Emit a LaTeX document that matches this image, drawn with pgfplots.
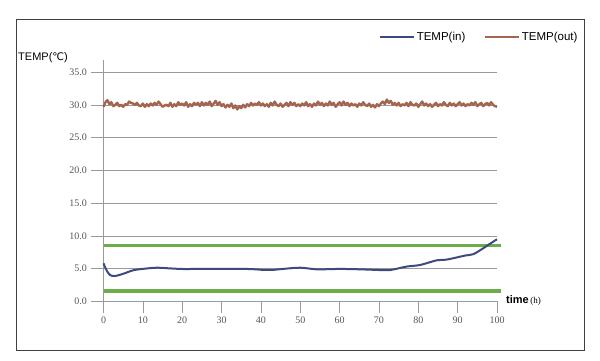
\documentclass[border=0pt]{standalone}
\usepackage{pgfplots}
\pgfplotsset{compat=1.18}
\usepackage{fontspec}
\setmainfont{Liberation Serif}
\newfontfamily\sans{Liberation Sans}
\newfontfamily\dejavu{DejaVu Sans}
\definecolor{inblue}{HTML}{3D4A80}
\definecolor{outbrown}{HTML}{A3654F}
\definecolor{limgreen}{HTML}{6AAD4A}
\definecolor{gridgray}{HTML}{9A9A9A}
\definecolor{ticktext}{HTML}{555555}
\begin{document}
\begin{tikzpicture}
\path[use as bounding box] (0,0) rectangle (600pt,-361pt);
\draw[black!75, line width=0.9pt] (16pt,-19pt) rectangle (584pt,-350pt);
\begin{axis}[
  at={(103.5pt,-301.3pt)}, anchor=south west,
  scale only axis, width=393.5pt, height=241pt,
  xmin=0, xmax=100, ymin=0, ymax=36.8,
  clip=false,
  axis x line=bottom, axis y line=left,
  axis line style={-, gridgray, line width=0.6pt},
  xtick={0,10,...,100}, ytick={0,5,...,35},
  ymajorgrids, grid style={gridgray, line width=0.6pt},
  tick align=outside, major tick length=12pt,
  tick style={gridgray, line width=0.6pt},
  /pgf/number format/assume math mode=true,
  ticklabel style={font=\fontsize{10}{11}\selectfont, text=ticktext},
  yticklabel style={/pgf/number format/fixed, /pgf/number format/fixed zerofill, /pgf/number format/precision=1, xshift=-1pt},
  legend style={draw=none, fill=none, at={(1.21,1.097)}, anchor=east, inner sep=0pt,
    font=\sans\fontsize{11.5}{13}\selectfont, legend columns=2,
    /tikz/every even column/.append style={column sep=16pt}},
  legend image code/.code={\draw[#1, line width=2.5pt] (0pt,0pt) -- (34pt,0pt);},
  legend cell align=left,
]
\addplot[limgreen, line width=3.5pt, forget plot] coordinates {(0,8.5) (101,8.5)};
\addplot[limgreen, line width=3.5pt, forget plot] coordinates {(0,1.6) (101,1.6)};
\addplot[inblue, line width=2pt, smooth, tension=0.5] coordinates {
(0,5.8) (0.8,4.7) (1.7,4.0) (2.9,3.86) (5,4.2) (7.6,4.75) (10,4.95) (13.5,5.13)
(17,5.02) (20.3,4.93) (25,4.95) (30,4.95) (37,4.93) (40.6,4.8) (43,4.8) (45.7,4.95)
(50,5.13) (54.2,4.88) (58.5,4.93) (62,4.93) (66.9,4.85) (70,4.78) (72.9,4.78)
(77,5.3) (80.4,5.54) (84.7,6.26) (87,6.35) (89.8,6.7) (92,7.0) (94,7.2)
(96.5,8.1) (98.5,8.9) (100,9.47)};
\addlegendentry{TEMP(in)}
\addplot[outbrown, line width=2.4pt, line join=round] coordinates {
(0,29.7) (0.5,30.4) (1,30.7) (1.5,30.1) (2,30.4) (2.5,29.8) (3,30.0) (3.5,30.3)
(4,29.8) (4.5,30.0) (5,29.7) (5.5,30.1) (6,30.0) (6.5,30.5) (7,30.3) (7.5,30.2)
(8,30.0) (8.5,30.3) (9,29.9) (9.5,29.8) (10,30.2) (10.5,29.7) (11,30.1) (11.5,29.8)
(12,30.2) (12.5,29.9) (13,30.3) (13.5,30.0) (14,30.5) (14.5,30.1) (15,29.7) (15.5,29.9)
(16,30.0) (16.5,29.8) (17,30.3) (17.5,29.7) (18,30.1) (18.5,29.8) (19,30.4) (19.5,30.0)
(20,30.2) (20.5,29.9) (21,30.4) (21.5,29.7) (22,30.1) (22.5,29.8) (23,30.3) (23.5,30.0)
(24,30.3) (24.5,29.8) (25,30.4) (25.5,29.9) (26,30.3) (26.5,30.0) (27,30.5) (27.5,29.8)
(28,30.2) (28.5,30.6) (29,30.0) (29.5,30.4) (30,29.8) (30.5,30.1) (31,29.6) (31.5,30.0)
(32,29.7) (32.5,30.2) (33,29.5) (33.5,29.9) (34,29.3) (34.5,29.8) (35,29.5) (35.5,30.0)
(36,29.6) (36.5,30.1) (37,29.8) (37.5,30.3) (38,29.9) (38.5,30.2) (39,30.0) (39.5,30.4)
(40,29.9) (40.5,30.2) (41,29.8) (41.5,30.1) (42,29.7) (42.5,30.3) (43,29.9) (43.5,30.5)
(44,30.0) (44.5,29.8) (45,30.2) (45.5,29.7) (46,30.0) (46.5,30.3) (47,29.8) (47.5,30.4)
(48,30.0) (48.5,30.3) (49,29.8) (49.5,30.1) (50,29.8) (50.5,30.2) (51,29.9) (51.5,30.4)
(52,29.8) (52.5,30.1) (53,29.7) (53.5,30.2) (54,29.9) (54.5,30.5) (55,30.0) (55.5,30.3)
(56,29.8) (56.5,30.2) (57,29.9) (57.5,30.5) (58,30.0) (58.5,30.3) (59,29.7) (59.5,30.1)
(60,30.4) (60.5,29.9) (61,30.5) (61.5,30.0) (62,30.3) (62.5,29.8) (63,30.2) (63.5,29.9)
(64,30.1) (64.5,29.7) (65,30.2) (65.5,29.9) (66,30.4) (66.5,30.0) (67,29.8) (67.5,30.2)
(68,29.7) (68.5,30.0) (69,29.6) (69.5,30.1) (70,29.8) (70.5,30.2) (71,30.5) (71.5,30.1)
(72,30.8) (72.5,30.3) (73,30.6) (73.5,30.0) (74,30.3) (74.5,29.9) (75,30.3) (75.5,29.8)
(76,30.1) (76.5,29.9) (77,30.3) (77.5,29.8) (78,30.4) (78.5,30.0) (79,29.9) (79.5,30.2)
(80,29.7) (80.5,30.1) (81,30.5) (81.5,29.9) (82,30.2) (82.5,29.8) (83,30.1) (83.5,29.7)
(84,30.0) (84.5,30.3) (85,29.8) (85.5,30.1) (86,29.9) (86.5,30.4) (87,30.0) (87.5,29.8)
(88,30.3) (88.5,29.9) (89,30.2) (89.5,29.8) (90,30.1) (90.5,30.4) (91,29.9) (91.5,30.2)
(92,29.8) (92.5,30.1) (93,29.9) (93.5,30.3) (94,30.0) (94.5,30.4) (95,29.8) (95.5,30.1)
(96,30.3) (96.5,29.8) (97,30.1) (97.5,30.3) (98,29.9) (98.5,30.4) (99,30.0) (99.5,29.8)
(100,29.7)};
\addlegendentry{TEMP(out)}
\end{axis}
\node[anchor=west, inner sep=0pt] at (18pt,-58pt) {\sans\fontsize{11}{12}\selectfont TEMP({\dejavu\fontsize{10.5}{12}\selectfont ℃})};
\node[anchor=west, inner sep=0pt] at (506pt,-300pt) {{\sans\bfseries\fontsize{11}{12}\selectfont time}\,{\fontsize{9}{10}\selectfont (h)}};
\end{tikzpicture}
\end{document}
